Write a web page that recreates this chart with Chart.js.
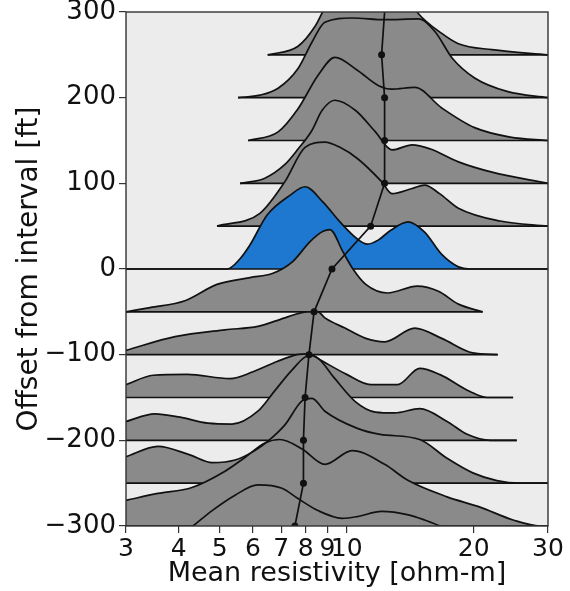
<!DOCTYPE html>
<html>
<head>
<meta charset="utf-8">
<script src="https://cdn.jsdelivr.net/npm/chart.js@4/dist/chart.umd.min.js"></script>
<style>
  html, body { margin: 0; padding: 0; background: #fff; }
  #wrap { width: 570px; height: 591px; }
</style>
</head>
<body>
<div id="wrap"><canvas id="chart"></canvas></div>
<script>
// Each ridge: [mean resistivity (ohm-m), height above its offset (ft)]
const ridge250 = [[6.5,0],[7.67,10],[8.41,33],[8.88,55],[9.64,80],[11.4,100],[13.4,80],[14.8,48],[16.8,25],[18.4,13],[22.1,6],[30,0]];
const ridge200 = [[5.53,0],[6.23,3],[6.88,11],[7.67,34],[8.28,65],[8.88,88],[10.3,93],[12.3,91],[14.8,92],[16.2,77],[17.8,46],[20.1,23],[24.1,7],[30,0]];
const ridge150 = [[5.84,0],[6.88,10],[7.67,37],[8.55,76],[9.38,97],[10.6,82],[11.9,64],[12.8,60],[14.5,62],[16.8,38],[20.1,15],[24.4,4],[30,0]];
const ridge100 = [[5.59,0],[6.4,6],[7.14,22],[7.67,40],[8.28,62],[8.74,85],[9.38,97],[10.5,85],[11.7,60],[12.8,39],[14.3,45],[15.8,40],[18.4,25],[22.1,13],[30,0]];
const ridge50 = [[4.93,0],[6.23,15],[7.14,52],[7.97,92],[8.88,98],[9.64,92],[10.6,79],[12.1,52],[12.8,38],[14.3,44],[15.3,48],[16.6,38],[18.4,21],[23.1,6],[30,0]];
const ridge0 = [[3,0],[5.21,0],[5.59,12],[5.9,28],[6.48,63],[7.34,86],[7.97,96],[8.79,78],[9.64,55],[10.6,35],[11.2,29],[11.9,34],[12.7,45],[14.0,55],[15.3,43],[16.8,17],[18.4,2.5],[19.6,0],[30,0]];
const ridgeM50 = [[3,0],[3.42,5],[4.14,13],[4.93,32],[5.9,40],[6.69,45],[7.46,59],[8.19,82],[8.79,94],[9.13,96],[9.8,70],[10.35,50],[11.1,32],[12.5,22],[14.7,30],[16.5,24],[18.4,9],[21.0,0]];
const ridgeM100 = [[3,5],[3.92,21],[5.15,29],[6.16,33],[7.14,43],[8.06,50],[8.55,50],[8.88,43],[9.91,31],[11.1,19],[12.3,15],[14.5,31],[16.8,19],[19.9,2],[22.8,0]];
const ridgeM150 = [[3,15],[3.48,26],[4.19,27],[5.29,22],[6.0,30],[6.84,42],[7.63,50],[8.14,51],[8.65,44],[10.0,27],[11.4,15],[13.2,15],[14.9,34],[16.6,27],[19.6,7],[21.5,0],[24.8,0]];
const ridgeM200 = [[3,22],[3.51,31],[4.03,27],[4.69,20],[5.35,19],[6.16,34],[6.76,58],[7.42,82],[8.14,99],[8.55,96],[9.38,72],[10.5,45],[11.7,33],[13.0,32],[14.9,37],[17.3,22],[19.3,7],[21.9,0],[25.3,0]];
const ridgeM250 = [[3,31],[3.57,43],[4.25,33],[4.8,24],[5.44,27],[6.06,38],[6.51,49],[7.14,68],[7.84,96],[8.28,99],[8.88,84],[10.6,64],[12.0,57],[14.9,51],[17.3,29],[19.9,12],[22.7,3],[25.7,0],[30,0]];
const ridgeM300 = [[3,30],[3.57,38],[4.3,45],[5.15,64],[5.74,80],[6.4,97],[6.95,101],[7.84,90],[8.88,72],[10.3,88],[12.3,72],[14.0,53],[17.3,34],[20.7,22],[24.8,7],[28.7,0],[30,0]];
const ridgeM350 = [[3,10],[3.81,30],[4.3,49],[4.8,68],[5.44,86],[6.16,98],[7.03,94],[7.67,82],[8.55,68],[9.75,59],[10.6,61],[12.1,67],[14.0,63],[15.3,57],[17.6,45],[20.7,30],[25.7,15],[30,8]];

const offsets = [250, 200, 150, 100, 50, 0, -50, -100, -150, -200, -250, -300, -350];
const ridges = [ridge250, ridge200, ridge150, ridge100, ridge50, ridge0, ridgeM50, ridgeM100, ridgeM150, ridgeM200, ridgeM250, ridgeM300, ridgeM350];

// median resistivity per offset
const medianOffsets = [300, 250, 200, 150, 100, 50, 0, -50, -100, -150, -200, -250, -300];
const medianValues = [12.3, 12.1, 12.3, 12.3, 12.3, 11.4, 9.23, 8.37, 8.14, 7.97, 7.9, 7.9, 7.54];

const xTicks = [3, 4, 5, 6, 7, 8, 9, 10, 20, 30];

const FONT = 'DejaVu Sans';
const GRAY = '#8a8a8a';
const BLUE = '#1f78cf';
const INK = '#111';

const datasets = [];
offsets.forEach((off, i) => {
  const pts = ridges[i].map(([x, h]) => ({ x, y: off + h }));
  const rank = offsets.length - i;
  // fill first, then the baseline, top ridge first so lower ridges cover it
  datasets.push({
    data: pts,
    fill: { value: off },
    backgroundColor: off === 0 ? BLUE : GRAY,
    borderColor: 'rgba(0,0,0,0)',
    borderWidth: 0,
    pointRadius: 0,
    cubicInterpolationMode: 'monotone',
    order: 10 + rank * 2 + 1,
    clip: 0
  });
  datasets.push({
    data: [{ x: pts[0].x, y: off }, { x: pts[pts.length - 1].x, y: off }],
    borderColor: INK,
    borderWidth: 1.7,
    pointRadius: 0,
    fill: false,
    order: 10 + rank * 2,
    clip: 0
  });
  // outline curves go on top of every fill
  datasets.push({
    data: pts,
    borderColor: INK,
    borderWidth: 1.7,
    pointRadius: 0,
    fill: false,
    cubicInterpolationMode: 'monotone',
    order: 1,
    clip: 0
  });
});

datasets.push({
  data: medianOffsets.map((o, i) => ({ x: medianValues[i], y: o })),
  borderColor: INK,
  borderWidth: 1.7,
  pointRadius: medianOffsets.map(o => (o === 300 ? 0 : 3.5)),
  pointBackgroundColor: INK,
  pointBorderWidth: 0,
  fill: false,
  tension: 0,
  order: 0,
  clip: 0
});

const frame = {
  id: 'frame',
  beforeDraw(chart) {
    const { ctx, chartArea: a } = chart;
    ctx.save();
    ctx.fillStyle = '#fff';
    ctx.fillRect(0, 0, chart.width, chart.height);
    ctx.fillStyle = '#ececec';
    ctx.fillRect(a.left, a.top, a.right - a.left, a.bottom - a.top);
    ctx.restore();
  },
  afterDatasetsDraw(chart) {
    const { ctx, chartArea: a } = chart;
    ctx.save();
    ctx.strokeStyle = '#333';
    ctx.lineWidth = 1.4;
    ctx.strokeRect(a.left, a.top, a.right - a.left, a.bottom - a.top);
    ctx.restore();
  }
};

new Chart(document.getElementById('chart'), {
  type: 'line',
  data: { datasets },
  options: {
    responsive: true,
    maintainAspectRatio: false,
    animation: false,
    layout: { padding: { top: 12, right: 22, left: 0, bottom: 0 } },
    plugins: {
      legend: { display: false },
      tooltip: { enabled: false }
    },
    scales: {
      x: {
        type: 'logarithmic',
        min: 3,
        max: 30,
        afterBuildTicks: s => { s.ticks = xTicks.map(v => ({ value: v })); },
        afterFit: s => { s.height = 65; s.paddingLeft = 0; s.paddingRight = 0; },
        ticks: {
          autoSkip: false,
          maxRotation: 0,
          padding: 1,
          color: INK,
          font: { family: FONT, size: 25 },
          callback: v => String(v)
        },
        grid: { drawOnChartArea: false, drawTicks: true, tickLength: 7, color: '#333', lineWidth: 1.2 },
        border: { display: false },
        title: {
          display: true,
          text: 'Mean resistivity [ohm-m]',
          color: INK,
          font: { family: FONT, size: 27 },
          padding: { top: 0, bottom: 1 }
        }
      },
      y: {
        type: 'linear',
        min: -300,
        max: 300,
        afterFit: s => { s.width = 126; s.paddingTop = 0; s.paddingBottom = 0; },
        ticks: {
          stepSize: 100,
          padding: 3,
          color: INK,
          font: { family: FONT, size: 26 },
          callback: v => (v < 0 ? '\u2212' + Math.abs(v) : String(v))
        },
        grid: { drawOnChartArea: false, drawTicks: true, tickLength: 7, color: '#333', lineWidth: 1.2 },
        border: { display: false },
        title: {
          display: true,
          text: 'Offset from interval [ft]',
          color: INK,
          font: { family: FONT, size: 28 },
          padding: { top: 13, bottom: 0 }
        }
      }
    }
  },
  plugins: [frame]
});
</script>
</body>
</html>
